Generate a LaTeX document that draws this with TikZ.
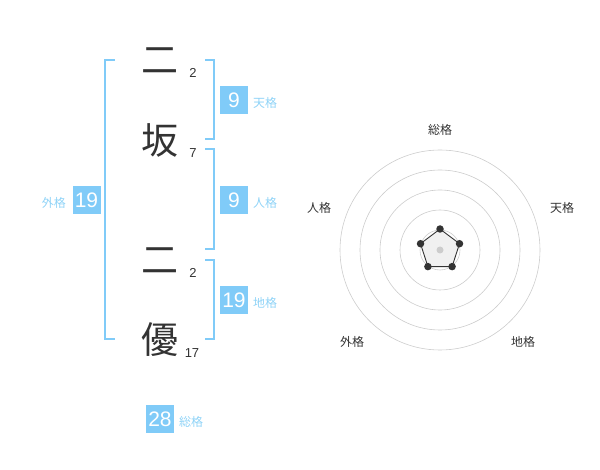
\documentclass[tikz,border=0pt]{standalone}
\usepackage{fontspec}
\setmainfont{Liberation Sans}
\newfontfamily\jp{Noto Sans CJK JP}
\definecolor{bl}{HTML}{80CBF8}
\definecolor{bllab}{HTML}{8FD3F7}
\definecolor{dk}{HTML}{333333}
\definecolor{ring}{HTML}{CCCCCC}
\begin{document}
\begin{tikzpicture}[x=1pt,y=-1pt,
  kanji/.style={font=\jp\fontsize{37}{37}\selectfont,text=dk,inner sep=0},
  strk/.style={font=\fontsize{13}{13}\selectfont,text=dk,inner sep=0},
  numbox/.style={fill=bl,text=white,minimum width=28pt,minimum height=28pt,inner sep=0,font=\fontsize{21}{21}\selectfont},
  lab/.style={font=\jp\fontsize{12}{12}\selectfont,text=bllab,inner sep=0},
  brk/.style={draw=bl,line width=1.5pt},
  rlab/.style={font=\jp\fontsize{12}{12}\selectfont,text=dk,inner sep=0},
  ringc/.style={draw=ring,line width=0.6pt},
  vdot/.style={circle,fill=dk,inner sep=0,minimum size=7.5pt}]
\useasboundingbox (0,0) rectangle (600,470);
% kanji
\node[kanji] (k1) at (160,61) {二};
\node[kanji] (k2) at (160,140) {坂};
\node[kanji] (k3) at (160,261) {二};
\node[kanji] (k4) at (160,340) {優};
\node[strk] (s1) at (193,73) {2};
\node[strk] (s2) at (193,153) {7};
\node[strk] (s3) at (193,273) {2};
\node[strk] (s4) at (192,353) {17};
% brackets
\draw[brk] (115,60) -- (105,60) -- (105,339) -- (115,339);
\draw[brk] (205,60) -- (214,60) -- (214,139) -- (205,139);
\draw[brk] (205,149) -- (214,149) -- (214,249) -- (205,249);
\draw[brk] (205,260) -- (214,260) -- (214,339) -- (205,339);
% boxes
\node[numbox] (ten) at (234,100) {9};
\node[lab,anchor=west] (tenl) at (253,103) {天格};
\node[numbox] (jin) at (234,200) {9};
\node[lab,anchor=west] (jinl) at (253,203) {人格};
\node[numbox] (chi) at (234,300) {19};
\node[lab,anchor=west] (chil) at (253,303) {地格};
\node[numbox] (gai) at (86.5,200) {19};
\node[lab,anchor=east] (gail) at (66,203) {外格};
\node[numbox] (sou) at (160,419) {28};
\node[lab,anchor=west] (soul) at (179,422) {総格};
% radar
\coordinate (c) at (440,250);
\foreach \r in {40,60,80,100} \draw[ringc] (c) circle (\r);
\draw[draw=ring,line width=0.6pt] (c) circle (20);
\node[rlab] (r1) at (440,130) {総格};
\node[rlab] (r2) at (562,208) {天格};
\node[rlab] (r3) at (319,208) {人格};
\node[rlab] (r4) at (352,342) {外格};
\node[rlab] (r5) at (523,342) {地格};
\path (c) ++(0,-21) coordinate (p1)
      (c) ++(19.5,-6.3) coordinate (p2)
      (c) ++(12.1,16.6) coordinate (p3)
      (c) ++(-12.1,16.6) coordinate (p4)
      (c) ++(-19.5,-6.3) coordinate (p5);
\fill[black!6] (p1) -- (p2) -- (p3) -- (p4) -- (p5) -- cycle;
\draw[dk,line width=0.9pt] (p1) -- (p2) -- (p3) -- (p4) -- (p5) -- cycle;
\fill[ring] (c) circle (3.5);
\foreach \p in {p1,p2,p3,p4,p5} \node[vdot] at (\p) {};
\end{tikzpicture}
\end{document}
